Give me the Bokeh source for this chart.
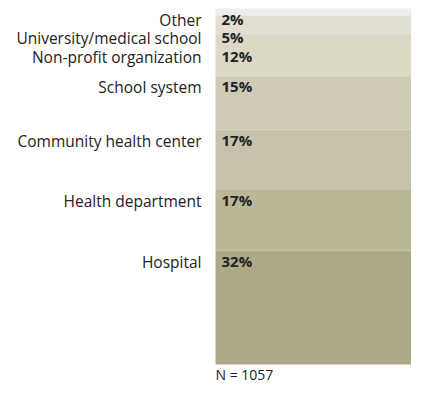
from bokeh.plotting import figure
from bokeh.models import ColumnDataSource, Range1d
from bokeh.embed import file_html
from bokeh.resources import INLINE
from bokeh.core.properties import value

categories = ["Other", "University/medical school", "Non-profit organization",
              "School system", "Community health center", "Health department", "Hospital"]
percents = [2, 5, 12, 15, 17, 17, 32]
colors = ["#eeede7", "#e1dfd1", "#dbd9c6", "#cfcab5", "#c7c2aa", "#bbb698", "#ada986"]
n_label = "N = 1057"

W, H = 411, 384
PX_PER_PCT = 3.56
TOP_PX = 8.0
FONT = "Open Sans"

tops, bottoms = [], []
c = 0
for v in percents:
    tops.append(c)
    c += v
    bottoms.append(c)

# label positions: at segment top, nudged down to avoid overlaps
min_gap = 5.2
label_y = []
prev = None
for t in tops:
    y = t if prev is None else max(t, prev + min_gap)
    label_y.append(y)
    prev = y

total = sum(percents)
src = ColumnDataSource(dict(
    cat=categories, top=tops, bottom=bottoms, color=colors, ly=label_y,
    pct=[f"{v}%" for v in percents],
))

p = figure(width=W, height=H, output_backend="svg", toolbar_location=None,
           min_border=0, outline_line_color=None,
           x_range=Range1d(0, W),
           y_range=Range1d((H - TOP_PX) / PX_PER_PCT, -TOP_PX / PX_PER_PCT))
p.axis.visible = False
p.grid.visible = False
p.background_fill_color = "white"
p.border_fill_color = "white"

p.quad(left=215, right=W, top="top", bottom="bottom", fill_color="color",
       line_color=None, source=src)

p.text(x=201, y="ly", text="cat", source=src, text_align="right",
       text_baseline="top", text_font=value(FONT), text_font_size="15.5px",
       text_color="#222222", y_offset=0)
p.text(x=221, y="ly", text="pct", source=src, text_align="left",
       text_baseline="top", text_font=value(FONT), text_font_size="15px",
       text_font_style="bold", text_color="#222222", y_offset=0)
p.text(x=[215], y=[total], text=[n_label], text_align="left", text_baseline="top",
       text_font=value(FONT), text_font_size="14px", text_color="#222222",
       y_offset=0)

open("out.html", "w").write(file_html(p, INLINE))
